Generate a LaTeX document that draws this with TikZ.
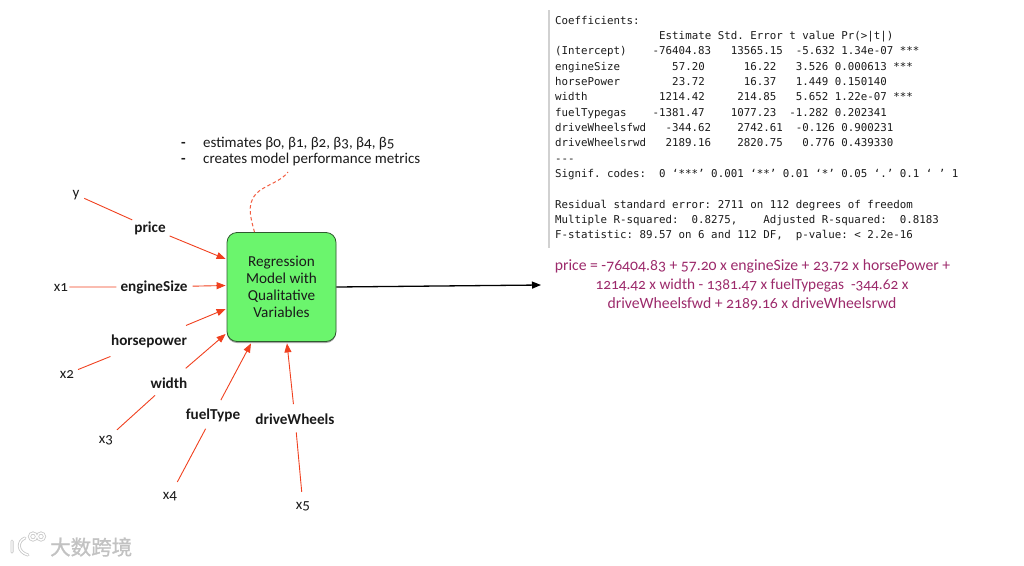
\documentclass[tikz,border=0pt]{standalone}
\usepackage{fontspec}
\setmainfont[Numbers=OldStyle]{Carlito}
\setmonofont{DejaVu Sans Mono}
\newfontfamily\cjkwm[FakeBold=1.2]{Noto Sans CJK SC}
\usetikzlibrary{calc,shadows,arrows.meta}
\definecolor{arrred}{HTML}{F0401F}
\definecolor{boxgreen}{HTML}{6BF56D}
\definecolor{boxline}{HTML}{2F5A2F}
\definecolor{eqpurple}{HTML}{9C2A6B}
\definecolor{inktext}{HTML}{1A1A1A}
\tikzset{
  x=1pt,y=-1pt,
  var/.style={font=\fontsize{15}{16}\selectfont,text=inktext,inner sep=1pt,anchor=base},
  lab/.style={font=\fontsize{15.2}{16}\selectfont\bfseries,text=inktext,inner sep=1pt,anchor=base},
  note/.style={font=\fontsize{15}{18}\selectfont,text=inktext,anchor=base west,inner sep=0pt},
  mono/.style={font=\fontsize{10.8}{12}\ttfamily,text=inktext,anchor=base west,inner sep=0pt},
  eqn/.style={font=\fontsize{15.7}{19}\selectfont,text=eqpurple,inner sep=0pt,anchor=base},
  modelbox/.style={draw=boxline,line width=0.8pt,fill=boxgreen,rounded corners=10pt,
    minimum width=109pt,minimum height=109pt,inner sep=0pt,align=center,
    font=\fontsize{15.2}{17}\selectfont,text=inktext,
    drop shadow={shadow xshift=0pt,shadow yshift=-1.5pt,opacity=.35,fill=black}},
  plainred/.style={draw=arrred,line width=0.9pt},
  redarrow/.style={plainred,-{Triangle[length=9pt,width=7pt]}},
  outarrow/.style={draw=black,line width=1.3pt,-{Triangle[length=9pt,width=7pt]}},
  dashcurve/.style={draw=arrred!85,line width=1pt,dash pattern=on 3.5pt off 2.5pt},
  wm/.style={font=\fontsize{20.5}{22}\cjkwm,text=black!24,inner sep=0pt},
  wmhalo/.style={draw=black!22,line width=3pt,line cap=round},
  wmcore/.style={draw=white,line width=1.4pt,line cap=round}
}
\begin{document}
\begin{tikzpicture}
\useasboundingbox (0,0) rectangle (1024,565);

% model box
\node[modelbox] (box) at (281.5,287) {Regression\\Model with\\Qualitative\\Variables};

% notes
\node[note] (dashA) at (181,147) {\textbf{-}};
\node[note] (dashB) at (181,163) {\textbf{-}};
\node[note] (noteA) at (203,147) {estimates β0, β1, β2, β3, β4, β5};
\node[note] (noteB) at (203,163) {creates model performance metrics};
\coordinate (noteEnd) at (288,172);
\draw[dashcurve] ($(box.north)+(-27,0)$) .. controls (250,215) and (245,200) .. (262,189)
  .. controls (272,183) and (282,180) .. (noteEnd);

% labels (base-anchored)
\node[var] (y) at (76,197) {y};
\node[lab] (price) at (150,232) {price};
\node[var] (x1) at (61,291) {x1};
\node[lab] (engine) at (154,291) {engineSize};
\node[lab] (hp) at (149,345) {horsepower};
\node[var] (x2) at (67,378) {x2};
\node[lab] (width) at (169,388) {width};
\node[var] (x3) at (106,443) {x3};
\node[lab] (fuel) at (213,419) {fuelType};
\node[var] (x4) at (170,499) {x4};
\node[lab] (drive) at (295,424) {driveWheels};
\node[var] (x5) at (303,509) {x5};

% connectors, label to label and label to model box
\draw[plainred,shorten <=4pt,shorten >=1pt] (y) -- (price);
\draw[redarrow,shorten <=3pt] (price) -- ($(box.west)+(-1,-28)$);
\draw[plainred,shorten >=3pt] (x1) -- (engine);
\draw[redarrow,shorten <=4pt] (engine) -- ($(box.west)+(-1,-1.5)$);
\draw[plainred,shorten <=3pt,shorten >=21pt] (x2) -- (hp);
\draw[redarrow,shorten <=20pt] (hp) -- ($(box.west)+(-1,22)$);
\draw[plainred,shorten <=6pt,shorten >=9pt] (x3) -- (width);
\draw[redarrow,shorten <=12pt] (width) -- ($(box.west)+(-1,47)$);
\draw[plainred,shorten <=9pt,shorten >=7pt] (x4) -- (fuel);
\draw[redarrow,shorten <=8pt] (fuel) -- ($(box.south)+(-30.5,1.5)$);
\draw[plainred,shorten <=8pt,shorten >=7pt] (x5) -- (drive);
\draw[redarrow,shorten <=8pt] (drive) -- ($(box.south)+(5.5,1.5)$);

% regression output
\draw[draw=black!18,line width=1.2pt] (549,10) -- (549,248);
\node[mono] (r1) at (555,24) {Coefficients:};
\node[mono] (r2) at (555,39.4) {~~~~~~~~~~~~~~~~Estimate Std. Error t value Pr(>|t|)};
\node[mono] (r3) at (555,54.7) {(Intercept)~~~~-76404.83~~~13565.15~~-5.632 1.34e-07 ***};
\node[mono] (r4) at (555,70) {engineSize~~~~~~~~57.20~~~~~~16.22~~~3.526 0.000613 ***};
\node[mono] (r5) at (555,85.4) {horsePower~~~~~~~~23.72~~~~~~16.37~~~1.449 0.150140};
\node[mono] (r6) at (555,100.7) {width~~~~~~~~~~~1214.42~~~~~214.85~~~5.652 1.22e-07 ***};
\node[mono] (r7) at (555,116) {fuelTypegas~~~~-1381.47~~~~1077.23~~-1.282 0.202341};
\node[mono] (r8) at (555,131.4) {driveWheelsfwd~~~-344.62~~~~2742.61~~-0.126 0.900231};
\node[mono] (r9) at (555,146.7) {driveWheelsrwd~~~2189.16~~~~2820.75~~~0.776 0.439330};
\node[mono] (r10) at (555,162) {---};
\node[mono] (r11) at (555,177.4) {Signif. codes:~~0 ‘***’ 0.001 ‘**’ 0.01 ‘*’ 0.05 ‘.’ 0.1 ‘~’ 1};
\node[mono] (r12) at (555,208) {Residual standard error: 2711 on 112 degrees of freedom};
\node[mono] (r13) at (555,223.4) {Multiple R-squared:~~0.8275,~~~~Adjusted R-squared:~~0.8183};
\node[mono] (r14) at (555,238.7) {F-statistic: 89.57 on 6 and 112 DF,~~p-value: < 2.2e-16};

% output arrow
\coordinate (outEnd) at (541,285);
\draw[outarrow] (box.east) -- (outEnd);

% equation
\node[eqn] (eq1) at (752.5,270) {price = -76404.83 + 57.20 x engineSize + 23.72 x horsePower +};
\node[eqn,font=\fontsize{15.3}{19}\selectfont] (eq2) at (752,289) {1214.42 x width - 1381.47 x fuelTypegas~~-344.62 x};
\node[eqn] (eq3) at (752,308) {driveWheelsfwd + 2189.16 x driveWheelsrwd};

% watermark
\node[wm,anchor=west] (mark) at (50,547) {大数跨境};
\foreach \lay in {wmhalo,wmcore}{
  \draw[\lay] (12,541) -- (12,552) (25,538) .. controls (17,541) and (17,552) .. (28,555);
  \draw[\lay] (33,536.5) circle (3.5) (41,536.5) circle (3.5);
}
\end{tikzpicture}
\end{document}
